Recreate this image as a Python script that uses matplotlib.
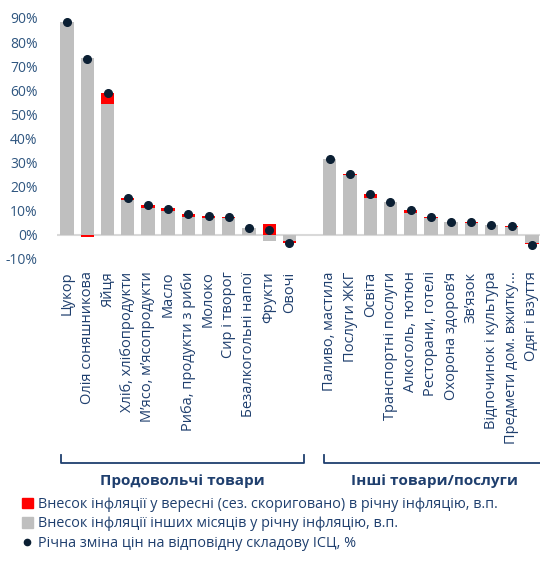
import matplotlib
matplotlib.use('Agg')
import matplotlib.pyplot as plt
import matplotlib.transforms as mtransforms
from matplotlib.patches import Patch
from matplotlib.lines import Line2D
import numpy as np

plt.rcParams['font.family'] = ['Open Sans', 'DejaVu Sans']

# Продовольчі товари
food_names = ['Цукор', 'Олія соняшникова', 'Яйця', 'Хліб, хлібопродукти',
              'М’ясо, м’ясопродукти', 'Масло', 'Риба, продукти з риби', 'Молоко',
              'Сир і творог', 'Безалкогольні напої', 'Фрукти', 'Овочі']
food_other = [88.5, 73.4, 54.3, 14.5, 11.3, 9.7, 7.6, 6.9, 6.9, 3.0, -2.4, -2.4]
food_sept = [0.0, -0.7, 4.5, 0.8, 1.1, 1.3, 1.1, 0.9, 0.6, 0.0, 4.4, -0.8]
food_annual = [88.5, 72.9, 58.8, 15.2, 12.4, 10.9, 8.7, 7.9, 7.6, 3.0, 2.0, -3.4]

# Інші товари/послуги
serv_names = ['Паливо, мастила', 'Послуги ЖКГ', 'Освіта', 'Транспортні послуги',
              'Алкоголь, тютюн', 'Ресторани, готелі', 'Охорона здоров’я', 'Зв’язок',
              'Відпочинок і культура', 'Предмети дом. вжитку...', 'Одяг і взуття']
serv_other = [31.5, 25.0, 15.1, 13.8, 9.1, 6.9, 5.2, 4.9, 4.1, 3.3, -3.4]
serv_sept = [0.0, 0.4, 1.9, 0.0, 1.2, 0.7, 0.3, 0.4, 0.0, 0.5, -0.5]
serv_annual = [31.4, 25.2, 16.9, 13.8, 10.4, 7.6, 5.5, 5.3, 4.1, 3.7, -4.1]

yticks = [-10, 0, 10, 20, 30, 40, 50, 60, 70, 80, 90]

GRAY = '#bfbfbf'
RED = '#ff0000'
DOT = '#0b1f33'
BLUE = '#1f3f6e'
TICKBLUE = '#2f5680'

names = food_names + [''] + serv_names
other = np.array(food_other + [0] + serv_other, dtype=float)
sept = np.array(food_sept + [0] + serv_sept, dtype=float)
annual = np.array(food_annual + [np.nan] + serv_annual, dtype=float)
x = np.arange(len(names))

fig = plt.figure(figsize=(5.4, 5.62), dpi=100)
ax = fig.add_axes([57 / 540, 0.5392, 485 / 540, 0.4288])

ax.bar(x, other, width=0.66, color=GRAY, zorder=2)
red_bottom = np.where(np.sign(sept) == np.sign(other), other, 0)
ax.bar(x, sept, bottom=red_bottom, width=0.66, color=RED, zorder=3, linewidth=0)
ax.plot(x, annual, 'o', color=DOT, markersize=5.5, zorder=4, linestyle='none')

ax.axhline(0, color='#d9d9d9', lw=1.5, zorder=1)
ax.set_xlim(-0.5, 23.5)
ax.set_ylim(-10, 90)
ax.set_yticks(yticks)
ax.set_yticklabels([f'{v}%' for v in yticks], color=TICKBLUE, fontsize=10)
ax.set_xticks(x)
ax.set_xticklabels(names, rotation=90, va='top', ha='center', color=BLUE, fontsize=10.5)
ax.tick_params(axis='both', length=0)
ax.tick_params(axis='x', pad=9)
ax.tick_params(axis='y', pad=14)
for s in ax.spines.values():
    s.set_visible(False)

# групові дужки
tr = mtransforms.blended_transform_factory(ax.transData, fig.transFigure)
yb = 1 - 463 / 562
yt = 1 - 455 / 562
groups = [(0, len(food_names) - 1, 'Продовольчі товари'),
          (len(food_names) + 1, len(names) - 1, 'Інші товари/послуги')]
for first, last, label in groups:
    x0, x1 = first - 0.3, last + 0.7
    fig.add_artist(Line2D([x0, x0, x1, x1], [yt, yb, yb, yt], transform=tr,
                          color=BLUE, lw=1.3, clip_on=False))
    fig.text((first + last) / 2 + 0.2, 1 - 481 / 562, label, transform=tr,
             ha='center', va='center', fontsize=11, fontweight='bold', color=BLUE)

handles = [Patch(color=RED), Patch(color=GRAY),
           Line2D([], [], marker='o', color=DOT, markersize=4.5, linestyle='none')]
labels = ['Внесок інфляції у вересні (сез. скориговано) в річну інфляцію, в.п.',
          'Внесок інфляції інших місяців у річну інфляцію, в.п.',
          'Річна зміна цін на відповідну складову ІСЦ, %']
leg = fig.legend(handles, labels, loc='upper left', bbox_to_anchor=(22 / 540, 1 - 497 / 562),
                 frameon=False, fontsize=10.4, handlelength=0.75, handleheight=0.75,
                 handletextpad=0.35, labelspacing=0.3, borderaxespad=0, borderpad=0)
for t in leg.get_texts():
    t.set_color(BLUE)

fig.savefig('out.png', dpi=100)
